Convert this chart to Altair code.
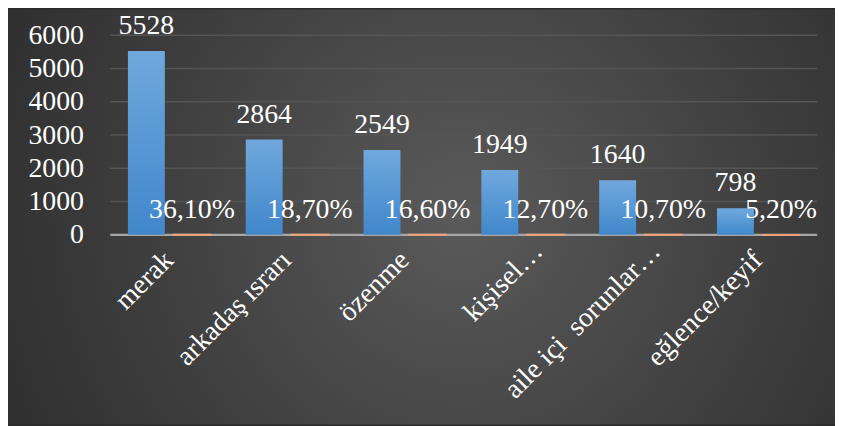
import altair as alt
import pandas as pd

categories = ["merak", "arkadaş ısrarı", "özenme", "kişisel…", "aile içi \u00a0sorunlar…", "eğlence/keyif"]
counts = [5528, 2864, 2549, 1949, 1640, 798]
percents = [36.1, 18.7, 16.6, 12.7, 10.7, 5.2]
series_names = ["Sayı", "Yüzde"]
y_ticks = [0, 1000, 2000, 3000, 4000, 5000, 6000]

rows = []
for c, n, p in zip(categories, counts, percents):
    rows.append({"cat": c, "series": series_names[0], "value": n, "label": str(n)})
    rows.append({"cat": c, "series": series_names[1], "value": p / 100.0,
                 "label": f"{p:.2f}".replace(".", ",") + "%"})
df = pd.DataFrame(rows)
grid_df = pd.DataFrame({"value": y_ticks[1:]})
zero_df = pd.DataFrame({"value": y_ticks[:1]})
bg_df = pd.DataFrame({"bg": [0]})

W, H = 712, 201
PL, PT, PR, PB = 103, 26, 18, 191
FONT = "Liberation Serif"
FS = 28

trunc_test = "indexof(datum.value, '…') >= 0"
x_enc = alt.X(
    "cat:N", sort=categories, title=None,
    scale=alt.Scale(paddingInner=0.3, paddingOuter=0.15),
    axis=alt.Axis(labelAngle=-45, labelAlign="right", labelBaseline="middle",
                  labelFont=FONT, labelFontSize=FS, labelColor="white",
                  labelPadding={"condition": {"test": trunc_test, "value": 12}, "value": 21},
                  labelOffset={"condition": {"test": trunc_test, "value": 16}, "value": 0},
                  labelLimit=500, ticks=False, domain=False, grid=False, zindex=1),
)
xoff = alt.XOffset("series:N", scale=alt.Scale(domain=series_names, paddingInner=0.19, paddingOuter=0))
y_axis = alt.Axis(values=y_ticks, format="d", labelOverlap=False, grid=False, domain=False, ticks=False,
                  labelFont=FONT, labelFontSize=FS, labelColor="white",
                  labelPadding=27, labelBaseline="middle", zindex=1)
y_enc = alt.Y("value:Q", title=None, scale=alt.Scale(domain=[0, 6000], nice=False), axis=y_axis)

bg = alt.Chart(bg_df).mark_rect(
    fill=alt.RadialGradient(
        gradient="radial",
        stops=[alt.GradientStop(color="#5a5a5a", offset=0),
               alt.GradientStop(color="#3c3c3c", offset=0.55),
               alt.GradientStop(color="#262626", offset=1)],
        x1=0.55, y1=0.5, r1=0, x2=0.55, y2=0.5, r2=0.75,
    )
).encode(x=alt.value(-PL), x2=alt.value(W + PR), y=alt.value(-PT), y2=alt.value(H + PB))

grid = alt.Chart(grid_df).mark_rule(color="#555555", strokeWidth=1.5).encode(y=y_enc)

zero_line = alt.Chart(zero_df).mark_rule(color="#a6a6a6", strokeWidth=2.5).encode(y=y_enc)

base = alt.Chart(df)

blue = base.transform_filter(alt.datum.series == series_names[0]).mark_bar(
    fill=alt.LinearGradient(
        gradient="linear",
        stops=[alt.GradientStop(color="#70a8dd", offset=0),
               alt.GradientStop(color="#4087cb", offset=1)],
        x1=0, x2=0, y1=0, y2=1,
    )
).encode(x=x_enc, xOffset=xoff, y=y_enc)

orange = base.transform_filter(alt.datum.series == series_names[1]).mark_bar(
    fill="#f2a276", stroke="#f2a276", strokeWidth=2
).encode(x=x_enc, xOffset=xoff, y=y_enc)

labels = base.mark_text(font=FONT, fontSize=FS, color="white", baseline="alphabetic", dy=-17).encode(
    x=x_enc, xOffset=xoff, y=y_enc, text="label:N"
)

chart = alt.layer(bg, grid, zero_line, blue, orange, labels).properties(
    width=W, height=H,
    padding={"left": PL, "top": PT, "right": PR, "bottom": PB},
    autosize=alt.AutoSizeParams(type="none"),
    background="#2a2a2a",
).configure_view(stroke=None)

chart.save("out.html", embed_options={"renderer": "svg", "actions": False})
